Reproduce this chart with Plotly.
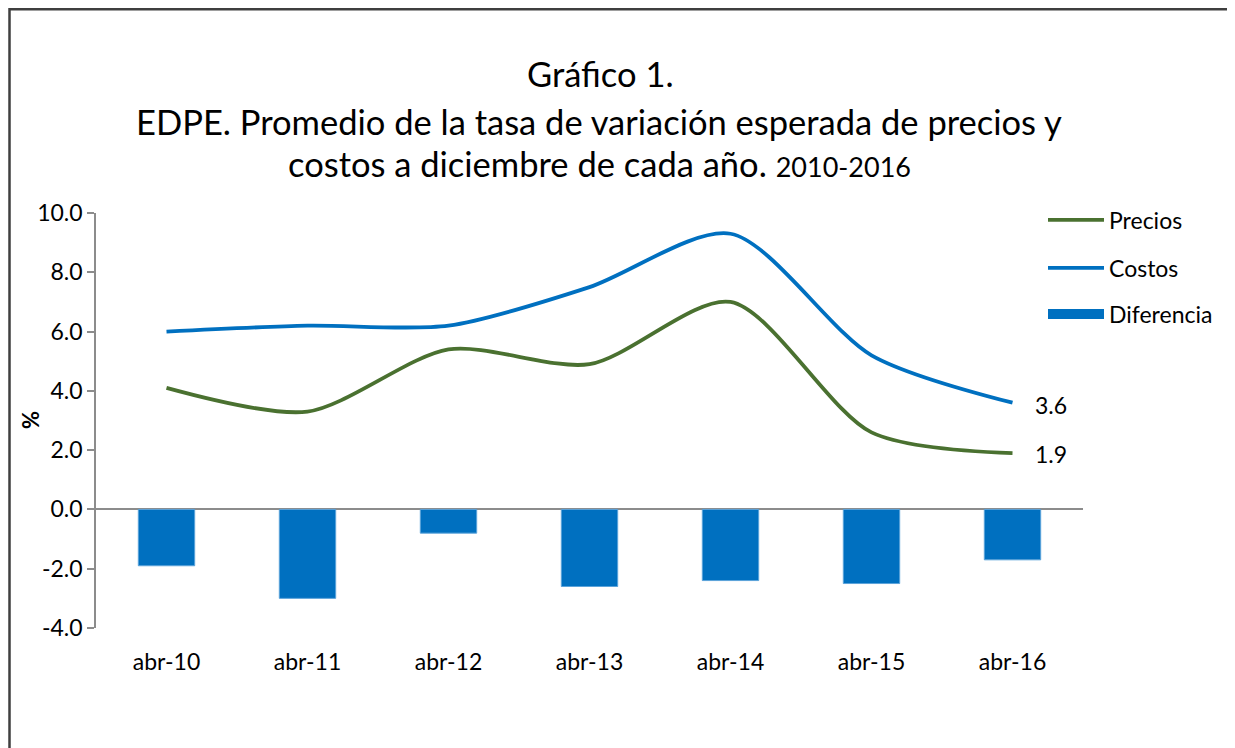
import plotly.graph_objects as go

categorias = ["abr-10", "abr-11", "abr-12", "abr-13", "abr-14", "abr-15", "abr-16"]
precios = [4.1, 3.3, 5.4, 4.9, 7.0, 2.6, 1.9]
costos = [6.0, 6.2, 6.2, 7.5, 9.3, 5.2, 3.6]
diferencia = [-1.9, -3.0, -0.8, -2.6, -2.4, -2.5, -1.7]
y_ticks = [-4, -2, 0, 2, 4, 6, 8, 10]

FONT = "Lato"
GREEN = "#4A7130"
BLUE = "#0070C0"

OFF = 8  # browser body margin
W, H = 1235, 748
pw, ph = 987, 415
L, T = 96 - OFF, 213 - OFF
R, B = W - L - pw, H - T - ph

def px(x):
    return (x - OFF - L) / pw

def py(y):
    return (T + ph - (y - OFF)) / ph

fig = go.Figure()
fig.add_trace(go.Bar(
    x=categorias, y=diferencia, name="Diferencia", marker_color=BLUE,
    marker_line_color="#5BA3DA", marker_line_width=1, width=0.4, showlegend=False))
fig.add_trace(go.Scatter(
    x=categorias, y=[None] * len(categorias), name="Diferencia", mode="lines",
    line=dict(color=BLUE, width=14), legend="legend3", hoverinfo="skip"))
fig.add_trace(go.Scatter(
    x=categorias, y=precios, name="Precios", mode="lines",
    line=dict(color=GREEN, width=3.8, shape="spline", smoothing=0.8),
    legend="legend"))
fig.add_trace(go.Scatter(
    x=categorias, y=costos, name="Costos", mode="lines",
    line=dict(color=BLUE, width=3.8, shape="spline", smoothing=0.8),
    legend="legend2"))

legend_common = dict(xanchor="left", yanchor="middle", font=dict(family=FONT, size=23, color="#000"),
                     bgcolor="rgba(0,0,0,0)", itemwidth=56, tracegroupgap=0)
title_font = dict(family=FONT, size=34.5, color="#000")
label_font = dict(family=FONT, size=23, color="#000")

annotations = [
    dict(text="Gráfico 1.", x=px(600), y=py(73), xref="paper", yref="paper",
         xanchor="center", yanchor="middle", showarrow=False, font=title_font),
    dict(text="EDPE. Promedio de la tasa de variación esperada de precios y", x=px(599), y=py(122),
         xref="paper", yref="paper", xanchor="center", yanchor="middle", showarrow=False,
         font=title_font),
    dict(text="costos a diciembre de cada año. <span style='font-size:27px'>2010-2016</span>",
         x=px(599), y=py(163), xref="paper", yref="paper", xanchor="center", yanchor="middle",
         showarrow=False, font=title_font),
    dict(text="<b>%</b>", x=px(30), y=py(420), xref="paper", yref="paper", textangle=-90,
         xanchor="center", yanchor="middle", showarrow=False,
         font=dict(family=FONT, size=22, color="#000")),
    dict(text=f"{costos[-1]:.1f}", x=categorias[-1], y=costos[-1], xref="x", yref="y",
         xanchor="left", yanchor="middle", xshift=20, yshift=-2, showarrow=False, font=label_font),
    dict(text=f"{precios[-1]:.1f}", x=categorias[-1], y=precios[-1], xref="x", yref="y",
         xanchor="left", yanchor="middle", xshift=20, yshift=-1, showarrow=False, font=label_font),
]

fig.update_layout(
    width=W, height=H,
    margin=dict(l=L, r=R, t=T, b=B),
    paper_bgcolor="white", plot_bgcolor="white",
    font=dict(family=FONT, size=23, color="#000"),
    barmode="overlay",
    showlegend=True,
    legend=dict(x=px(1043), y=py(220), **legend_common),
    legend2=dict(x=px(1043), y=py(268), **legend_common),
    legend3=dict(x=px(1043), y=py(314), **legend_common),
    xaxis=dict(type="category", showline=False, ticks="", showgrid=False, automargin=False,
               tickfont=label_font, ticklabelstandoff=18, range=[-0.5, 6.5]),
    yaxis=dict(range=[-4, 10], tickvals=y_ticks, ticktext=[f"{v:.1f}" for v in y_ticks],
               showgrid=False, showline=True, linecolor="#8C8C8C", linewidth=1.5, automargin=False,
               ticks="outside", ticklen=7, tickcolor="#8C8C8C", tickwidth=1.5,
               zeroline=True, zerolinecolor="#8C8C8C", zerolinewidth=1.5,
               tickfont=label_font),
    annotations=annotations,
    shapes=[
        dict(type="path", xref="paper", yref="paper",
             path=f"M {px(9.5)} {py(770)} L {px(9.5)} {py(9.3)} L {px(1231)} {py(9.3)} L {px(1231)} {py(770)}",
             line=dict(color="#3F3F3F", width=2.5)),
    ],
)

fig.write_html("out.html")
